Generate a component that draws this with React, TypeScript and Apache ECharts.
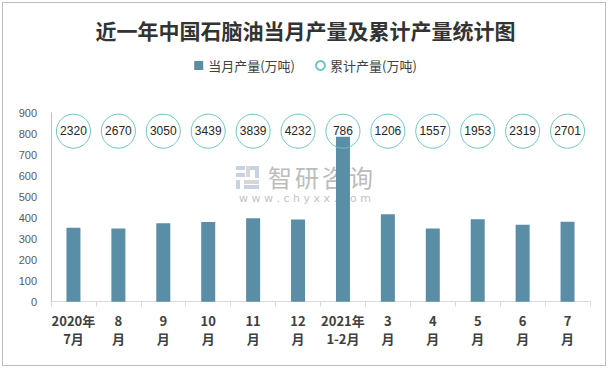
import React, { useEffect, useRef } from "react";
import * as echarts from "echarts";

const categories = ["2020年\n7月", "8\n月", "9\n月", "10\n月", "11\n月", "12\n月", "2021年\n1-2月", "3\n月", "4\n月", "5\n月", "6\n月", "7\n月"];
const monthly = [352, 349, 374, 379, 397, 392, 786, 417, 349, 393, 366, 381];
const cumulative = [2320, 2670, 3050, 3439, 3839, 4232, 786, 1206, 1557, 1953, 2319, 2701];
const yTicks = { min: 0, max: 900, interval: 100 };
const circleLevel = 812;

const barColor = "#5a8ea6";
const ringColor = "#6cc5bf";
const cjk = "'Noto Sans CJK SC', 'Microsoft YaHei', sans-serif";

export default function App() {
  const ref = useRef<HTMLDivElement>(null);
  useEffect(() => {
    if (!ref.current) return;
    const chart = echarts.init(ref.current, undefined, { renderer: "svg" });
    const wmChars = ["智", "研", "咨", "询"];
    const graphics: any[] = [
      {
        type: "rect",
        shape: { x: 2.5, y: 2.5, width: 603, height: 363 },
        style: { fill: "none", stroke: "#bdbdbd", lineWidth: 1 },
        z: -10,
        silent: true,
      },
      // logo
      { type: "rect", shape: { x: 236, y: 166, width: 9, height: 4 }, style: { fill: "#c9d2e3" }, z: 0, silent: true },
      { type: "rect", shape: { x: 236, y: 173, width: 9, height: 4 }, style: { fill: "#c9d2e3" }, z: 0, silent: true },
      { type: "rect", shape: { x: 236, y: 180, width: 4, height: 9 }, style: { fill: "#c9d2e3" }, z: 0, silent: true },
      { type: "rect", shape: { x: 246, y: 166, width: 4, height: 11 }, style: { fill: "#d7d7d7" }, z: 0, silent: true },
      { type: "rect", shape: { x: 250, y: 166, width: 9, height: 4 }, style: { fill: "#c9d2e3" }, z: 0, silent: true },
      { type: "rect", shape: { x: 255, y: 170, width: 4, height: 8 }, style: { fill: "#c9d2e3" }, z: 0, silent: true },
      { type: "rect", shape: { x: 244, y: 180, width: 15, height: 4 }, style: { fill: "#d7d7d7" }, z: 0, silent: true },
      { type: "rect", shape: { x: 244, y: 185, width: 15, height: 4 }, style: { fill: "#c9d2e3" }, z: 0, silent: true },
      {
        type: "text",
        x: 305,
        y: 198,
        z: 0,
        silent: true,
        style: {
          text: "w w w . c h y x x . c o m",
          fill: "#c4c4c4",
          font: `400 11px 'DejaVu Sans', sans-serif`,
          verticalAlign: "middle",
          align: "center",
        },
      },
    ];
    wmChars.forEach((c, i) => {
      graphics.push({
        type: "text",
        x: 268 + i * 27,
        y: 176,
        z: 0,
        silent: true,
        style: { text: c, fill: "#bcbcbc", font: `400 24px ${cjk}`, verticalAlign: "middle", align: "left" },
      });
    });

    chart.setOption({
      animation: false,
      backgroundColor: "#ffffff",
      title: {
        text: "近一年中国石脑油当月产量及累计产量统计图",
        left: "center",
        top: 14,
        textStyle: { fontFamily: cjk, fontSize: 21, fontWeight: "bold", color: "#333333" },
      },
      legend: {
        top: 54,
        left: "center",
        itemGap: 20,
        itemWidth: 9,
        itemHeight: 9,
        textStyle: { fontFamily: cjk, fontSize: 13, color: "#404040" },
        data: [
          { name: "当月产量(万吨)", icon: "rect" },
          { name: "累计产量(万吨)", icon: "circle" },
        ],
      },
      graphic: graphics,
      grid: { left: 51, right: 21, top: 112.7, bottom: 68.3, containLabel: false },
      xAxis: {
        type: "category",
        data: categories,
        axisLine: { show: true, lineStyle: { color: "#d9d9d9" } },
        axisTick: { show: true, alignWithLabel: false, length: 5, lineStyle: { color: "#d9d9d9" } },
        axisLabel: {
          interval: 0,
          margin: 10,
          fontFamily: cjk,
          fontSize: 13,
          fontWeight: "bold",
          color: "#404040",
          lineHeight: 18,
        },
      },
      yAxis: {
        type: "value",
        min: yTicks.min,
        max: yTicks.max,
        interval: yTicks.interval,
        splitLine: { show: false },
        axisLine: { show: true, lineStyle: { color: "#bfbfbf" } },
        axisTick: { show: false },
        axisLabel: { margin: 14, fontFamily: "'Liberation Sans', sans-serif", fontSize: 11, color: "#595959" },
      },
      series: [
        {
          name: "当月产量(万吨)",
          type: "bar",
          data: monthly,
          barWidth: 14,
          itemStyle: { color: barColor },
          z: 2,
        },
        {
          name: "累计产量(万吨)",
          type: "scatter",
          data: cumulative.map(() => circleLevel),
          symbol: "circle",
          symbolSize: 34,
          itemStyle: { color: "rgba(255,255,255,0)", borderColor: ringColor, borderWidth: 1, opacity: 1 },
          label: {
            show: true,
            position: "inside",
            formatter: (p: any) => String(cumulative[p.dataIndex]),
            fontFamily: "'Liberation Sans', sans-serif",
            fontSize: 12,
            color: "#262626",
          },
          z: 5,
        },
      ],
    });
    return () => chart.dispose();
  }, []);
  return <div ref={ref} style={{ position: "fixed", left: 0, top: 0, width: 611, height: 370 }} />;
}
